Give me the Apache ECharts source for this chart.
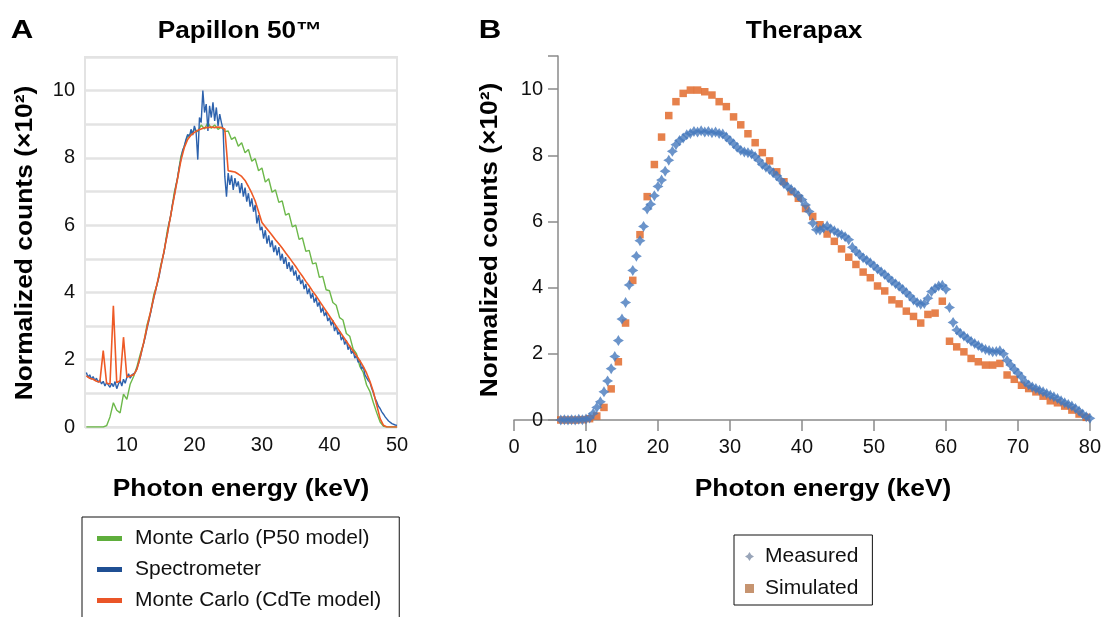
<!DOCTYPE html>
<html><head><meta charset="utf-8">
<script src="https://cdn.jsdelivr.net/npm/echarts@6/dist/echarts.min.js"></script>
<style>html,body{margin:0;padding:0;background:#fff}#c{width:1104px;height:617px}</style>
</head><body><div id="c"></div>
<script>
const FONT = '"Liberation Sans", Arial, sans-serif';

// ---------- Panel A: Papillon 50 (counts ×10², energy keV) ----------
const papillonStartKeV = 4.0;
const spectrometerStepKeV = 0.25;
const monteCarloStepKeV = 0.5;
const spectrometer = [
  1.62,1.48,1.55,1.42,1.50,1.38,1.45,1.33,
  1.40,1.28,1.36,1.22,1.32,1.25,1.18,1.30,
  1.20,1.35,1.14,1.28,1.38,1.22,1.42,1.30,
  1.48,1.58,1.45,1.55,1.50,1.62,1.75,1.90,
  2.08,2.30,2.50,2.70,2.95,3.15,3.38,3.62,
  3.85,4.05,4.28,4.45,4.72,4.98,5.20,5.50,
  5.75,6.05,6.30,6.62,6.85,7.15,7.40,7.72,
  7.95,8.22,8.35,8.55,8.70,8.62,8.85,8.68,
  8.95,8.78,7.95,9.20,9.05,10.0,9.35,9.60,
  8.80,9.55,9.20,9.65,9.10,9.50,8.95,9.30,
  9.05,8.85,7.45,6.85,7.55,7.20,7.48,7.05,
  7.40,7.15,7.30,6.95,7.25,6.85,7.12,6.70,
  6.95,6.55,6.80,6.40,6.60,6.05,6.30,5.85,
  5.95,5.60,5.85,5.45,5.70,5.35,5.55,5.20,
  5.40,5.10,5.35,4.95,5.15,4.85,5.05,4.70,
  4.90,4.62,4.80,4.50,4.65,4.35,4.52,4.25,
  4.38,4.10,4.25,3.95,4.12,3.82,3.98,3.70,
  3.85,3.58,3.72,3.40,3.55,3.30,3.42,3.15,
  3.25,3.02,3.18,2.85,3.00,2.75,2.85,2.58,
  2.70,2.45,2.58,2.30,2.42,2.18,2.28,2.05,
  2.12,1.92,1.98,1.72,1.80,1.55,1.58,1.38,
  1.32,1.15,1.02,0.85,0.75,0.62,0.55,0.45,
  0.38,0.30,0.25,0.18,0.15,0.10,0.08,0.06,
  0.05
];
const monteCarloCdTe = [
  1.52,1.45,1.42,1.36,1.34,2.27,1.30,1.28,
  3.60,1.32,1.38,2.67,1.48,1.52,1.55,1.72,
  2.10,2.52,2.98,3.42,3.86,4.28,4.74,5.22,
  5.74,6.30,6.84,7.38,7.92,8.30,8.55,8.68,
  8.76,8.82,8.86,8.90,8.90,8.92,8.90,8.92,
  8.90,8.86,7.62,7.60,7.58,7.52,7.45,7.33,
  7.15,6.95,6.72,6.40,6.08,5.95,5.83,5.70,
  5.57,5.45,5.32,5.18,5.05,4.91,4.77,4.62,
  4.48,4.33,4.19,4.04,3.90,3.75,3.60,3.45,
  3.30,3.15,3.00,2.85,2.70,2.55,2.40,2.26,
  2.12,1.97,1.80,1.60,1.35,1.05,0.65,0.25,
  0.05,0,0,0,0
];
const monteCarloP50 = [
  0,0,0,0,0,0,0.04,0.30,
  0.72,0.50,0.42,0.98,0.82,1.28,1.50,1.80,
  2.18,2.50,3.05,3.40,3.95,4.25,4.80,5.20,
  5.85,6.28,6.95,7.40,8.05,8.35,8.65,8.72,
  8.85,8.78,8.98,8.86,9.05,8.88,8.98,8.85,
  8.92,8.78,8.80,8.55,8.62,8.35,8.45,8.15,
  8.25,7.90,7.98,7.62,7.70,7.28,7.38,6.98,
  7.05,6.68,6.72,6.30,6.35,5.95,6.00,5.58,
  5.62,5.22,5.25,4.85,4.88,4.45,4.48,4.08,
  4.05,3.70,3.62,3.25,3.18,2.78,2.70,2.32,
  2.18,1.80,1.62,1.25,1.05,0.72,0.42,0.15,
  0.02,0,0,0,0
];
const xTicksA = [10, 20, 30, 40, 50];
const yLabelsA = [0, 2, 4, 6, 8, 10];

// ---------- Panel B: Therapax ----------
const measuredStartKeV = 6.5;
const measuredStepKeV = 0.5;
const measured = [
  0,0.01,0,0.01,0,0.02,0.01,0.03,
  0.06,0.20,0.38,0.55,0.85,1.18,1.55,1.92,
  2.40,3.05,3.55,4.08,4.52,4.95,5.42,5.85,
  6.38,6.52,6.78,7.06,7.25,7.52,7.85,8.12,
  8.32,8.45,8.52,8.62,8.66,8.72,8.70,8.74,
  8.70,8.72,8.68,8.70,8.66,8.64,8.55,8.45,
  8.35,8.24,8.15,8.10,8.08,8.04,7.96,7.85,
  7.72,7.64,7.57,7.47,7.38,7.26,7.14,7.05,
  6.97,6.88,6.78,6.66,6.50,6.30,5.95,5.75,
  5.74,5.80,5.86,5.78,5.72,5.65,5.60,5.54,
  5.45,5.22,5.10,5.00,4.90,4.83,4.75,4.66,
  4.56,4.48,4.40,4.30,4.20,4.12,4.04,3.95,
  3.85,3.75,3.63,3.55,3.50,3.52,3.68,3.88,
  3.98,4.05,4.07,3.95,3.40,2.95,2.72,2.62,
  2.54,2.46,2.38,2.31,2.25,2.18,2.13,2.10,
  2.06,2.07,2.09,2.00,1.80,1.66,1.53,1.42,
  1.30,1.15,1.06,1.00,0.95,0.90,0.85,0.80,
  0.75,0.70,0.65,0.58,0.52,0.47,0.42,0.35,
  0.27,0.18,0.10,0.05
];
const simulatedStartKeV = 6.5;
const simulatedStepKeV = 1.0;
const simulated = [
  0,0,0,0.01,0.04,0.12,0.38,0.94,
  1.76,2.93,4.22,5.60,6.75,7.72,8.55,9.20,
  9.62,9.87,9.97,9.97,9.92,9.82,9.62,9.47,
  9.16,8.92,8.65,8.38,8.08,7.83,7.50,7.20,
  6.90,6.70,6.39,6.15,5.90,5.62,5.40,5.17,
  4.92,4.70,4.47,4.30,4.05,3.90,3.63,3.51,
  3.29,3.13,2.93,3.19,3.23,3.59,2.38,2.21,
  2.06,1.86,1.76,1.66,1.66,1.71,1.36,1.23,
  1.05,0.95,0.85,0.72,0.58,0.52,0.42,0.30,
  0.18,0.08
];
const yLabelsB = [0, 2, 4, 6, 8, 10];

function pairs(start, step, vals) {
  return vals.map((v, i) => [+(start + i * step).toFixed(3), v]);
}

const STAR = 'path://M0,-10L3.8,-3.8L10,0L3.8,3.8L0,10L-3.8,3.8L-10,0L-3.8,-3.8Z';
const labelStyle = { fontFamily: FONT, fontSize: 20, color: '#111' };

function boldText(x, y, text, size, sx, rot) {
  return { type: 'text', x: x, y: y, rotation: rot || 0, scaleX: sx, scaleY: 1,
    style: { text: text, font: 'bold ' + size + 'px ' + FONT, fill: '#000',
      textAlign: 'center', textVerticalAlign: 'middle' } };
}

const chart = echarts.init(document.getElementById('c'), null, { renderer: 'canvas' });
chart.setOption({
  animation: false,
  backgroundColor: '#fff',
  grid: [
    { left: 85, right: 707, top: 57, bottom: 190, show: true, borderColor: '#e3e3e3', borderWidth: 2 },
    { left: 514, right: 10, top: 56, bottom: 197 }
  ],
  xAxis: [
    { gridIndex: 0, type: 'value', min: 3.8, max: 50,
      axisLine: { show: false },
      axisTick: { show: false },
      splitLine: { show: false },
      axisLabel: Object.assign({ margin: 8, customValues: xTicksA }, labelStyle) },
    { gridIndex: 1, type: 'value', min: 0, max: 80, interval: 10,
      axisLine: { onZero: false, lineStyle: { color: '#8a8a8a', width: 1.5 } },
      axisTick: { length: 11, lineStyle: { color: '#8a8a8a', width: 1.5 } },
      splitLine: { show: false },
      axisLabel: Object.assign({ margin: 17 }, labelStyle) }
  ],
  yAxis: [
    { gridIndex: 0, type: 'value', min: 0, max: 11, interval: 1,
      axisLine: { show: false }, axisTick: { show: false },
      splitLine: { show: true, lineStyle: { color: '#e3e3e3', width: 2.5 } },
      axisLabel: Object.assign({ margin: 10,
        formatter: v => (yLabelsA.indexOf(v) >= 0 ? String(v) : '') }, labelStyle) },
    { gridIndex: 1, type: 'value', min: 0, max: 11, interval: 2, offset: -44,
      axisLine: { show: true, lineStyle: { color: '#8a8a8a', width: 1.5 } },
      axisTick: { show: true, length: 10, lineStyle: { color: '#8a8a8a', width: 1.5 } },
      splitLine: { show: false },
      axisLabel: Object.assign({ margin: 15,
        formatter: v => (yLabelsB.indexOf(v) >= 0 ? String(v) : '') }, labelStyle) }
  ],
  legend: [
    { left: 82, top: 517, height: 200, orient: 'vertical', selectedMode: false,
      itemWidth: 25, itemHeight: 5, itemGap: 10,
      padding: [11, 18, 30, 15], borderColor: '#111', borderWidth: 1,
      textStyle: { fontFamily: FONT, fontSize: 21, color: '#111', padding: [0, 0, 0, 8] },
      data: [
        { name: 'Monte Carlo (P50 model)', icon: 'rect', itemStyle: { color: '#5fae3c' } },
        { name: 'Spectrometer', icon: 'rect', itemStyle: { color: '#1f4f93' } },
        { name: 'Monte Carlo (CdTe model)', icon: 'rect', itemStyle: { color: '#ea5528' } }
      ] },
    { left: 734, top: 535, orient: 'vertical', selectedMode: false,
      itemWidth: 9, itemHeight: 9, itemGap: 11,
      padding: [11, 14, 6, 11], borderColor: '#111', borderWidth: 1,
      textStyle: { fontFamily: FONT, fontSize: 21, color: '#111', padding: [0, 0, 0, 6] },
      data: [
        { name: 'Measured', icon: STAR, itemStyle: { color: '#7f8ea8' } },
        { name: 'Simulated', icon: 'rect', itemStyle: { color: '#b8794c' } }
      ] }
  ],
  series: [
    { name: 'Monte Carlo (P50 model)', type: 'line', xAxisIndex: 0, yAxisIndex: 0,
      data: pairs(papillonStartKeV, monteCarloStepKeV, monteCarloP50),
      showSymbol: false, lineStyle: { color: '#6cb84a', width: 1.4 }, itemStyle: { color: '#6cb84a' } },
    { name: 'Spectrometer', type: 'line', xAxisIndex: 0, yAxisIndex: 0,
      data: pairs(papillonStartKeV, spectrometerStepKeV, spectrometer),
      showSymbol: false, lineStyle: { color: '#2d62ad', width: 1.4 }, itemStyle: { color: '#2d62ad' } },
    { name: 'Monte Carlo (CdTe model)', type: 'line', xAxisIndex: 0, yAxisIndex: 0,
      data: pairs(papillonStartKeV, monteCarloStepKeV, monteCarloCdTe),
      showSymbol: false, lineStyle: { color: '#ee5a26', width: 1.6 }, itemStyle: { color: '#ee5a26' } },
    { name: 'Simulated', type: 'scatter', xAxisIndex: 1, yAxisIndex: 1,
      data: pairs(simulatedStartKeV, simulatedStepKeV, simulated),
      symbol: 'rect', symbolSize: 7.5, itemStyle: { color: '#e0621f' } },
    { name: 'Measured', type: 'scatter', xAxisIndex: 1, yAxisIndex: 1,
      data: pairs(measuredStartKeV, measuredStepKeV, measured),
      symbol: STAR, symbolSize: 11, itemStyle: { color: '#4679bd' } }
  ],
  graphic: [
    boldText(22, 31, 'A', 26, 1.2),
    boldText(240, 32, 'Papillon 50™', 23, 1.14),
    boldText(490, 31, 'B', 26, 1.2),
    boldText(804, 32, 'Therapax', 23, 1.14),
    boldText(25, 243, 'Normalized counts (×10²)', 24, 1.1, Math.PI / 2),
    boldText(490, 240, 'Normalized counts (×10²)', 24, 1.1, Math.PI / 2),
    boldText(241, 489, 'Photon energy (keV)', 24, 1.1),
    boldText(823, 489, 'Photon energy (keV)', 24, 1.1)
  ]
});
</script>
</body></html>
